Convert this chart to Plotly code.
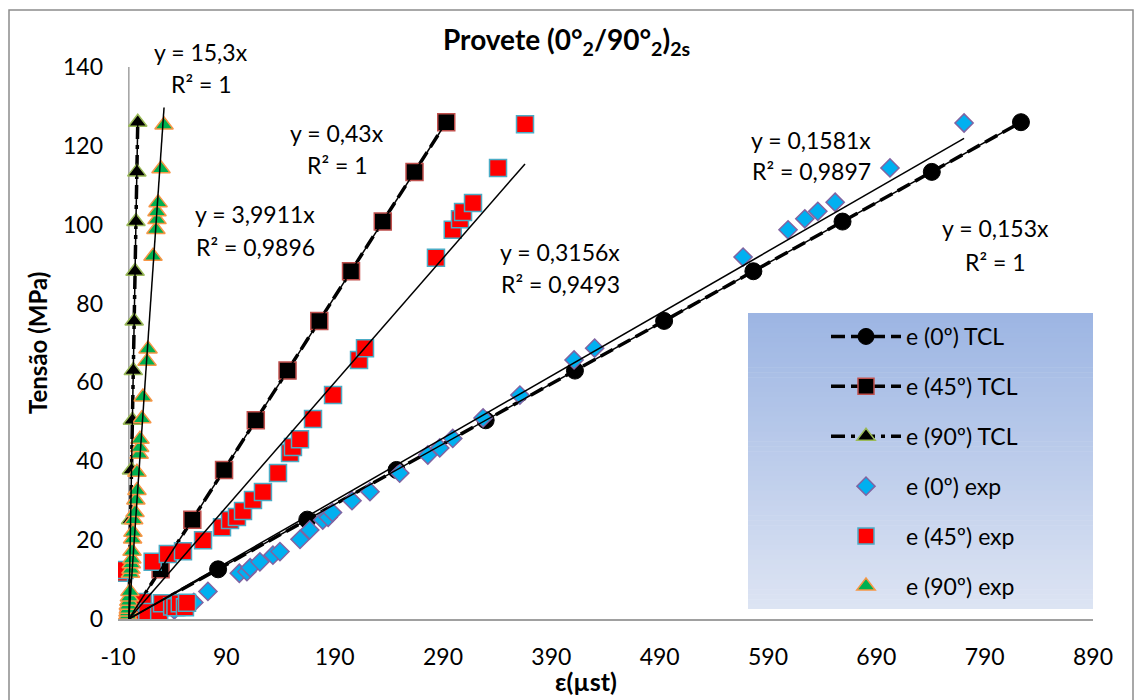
import plotly.graph_objects as go

# ---------------- data ----------------
tcl_load = [0, 12.6, 25.2, 37.8, 50.4, 63.0, 75.6, 88.2, 100.8, 113.4, 126.0]
tcl0_strain = [0, 82.4, 164.7, 247.1, 329.4, 411.8, 494.1, 576.5, 658.8, 741.2, 823.5]
tcl45_strain = [0, 29.3, 58.6, 87.9, 117.2, 146.5, 175.8, 205.1, 234.4, 263.7, 293.0]
tcl90_strain = [0, 0.82, 1.65, 2.47, 3.29, 4.12, 4.94, 5.76, 6.59, 7.41, 8.24]

exp0_strain = [5, 18, 30, 42, 52, 60, 73, 102, 109, 112, 121, 133, 139.5, 158, 167, 179, 184,
               188, 206, 222.6, 250, 276, 287, 299, 327, 361, 411, 430, 567, 608.5, 624, 636,
               652, 702.6, 771]
exp0_load = [0.3, 0.8, 1.5, 2.3, 3.2, 4.2, 7.0, 11.6, 12.0, 13.0, 14.5, 16.2, 17.1, 20.2, 22.6,
             25.1, 25.8, 27.0, 30.0, 32.3, 37.0, 41.6, 43.4, 45.8, 51.0, 56.8, 65.7, 68.7, 91.8,
             98.7, 101.5, 103.4, 105.7, 114.4, 125.8]

exp45_strain = [-9, -4, 3, 8, 13, 17, 22, 28, 30.6, 36, 40, 43, 47, 51.8, 53.7, 50, 68.5, 86,
                93.4, 99.8, 105.4, 114.6, 123.8, 137.7, 148.8, 151.5, 158, 170, 188.5, 212.5,
                218, 283.5, 299, 305.7, 308.5, 317.7, 340.8, 365.7]
exp45_load = [11.7, 12.4, 0.5, 1.5, 4.3, 1.8, 14.5, 1.0, 4.0, 16.5, 3.2, 3.0, 4.0, 3.0, 4.1,
              17.2, 20.0, 23.3, 25.1, 25.9, 27.4, 30.2, 32.2, 37.0, 42.1, 43.6, 45.6, 50.7,
              56.8, 65.7, 68.7, 91.6, 98.7, 101.4, 103.2, 105.5, 114.4, 125.5]

exp90_strain = [-1.5, -1, -0.8, -0.5, -0.5, 0, 0.5, 1, 1.5, 2, 2.3, 2.8, 3, 3.5, 3.8, 4.5, 5.7,
                6.5, 7.5, 7.5, 9.5, 10, 10.3, 12, 13, 16.8, 17.7, 22.3, 25, 26, 26, 27, 29.7,
                32.5]
exp90_load = [0.3, 1.0, 1.8, 2.5, 3.5, 4.5, 5.6, 7.0, 11.6, 12.6, 14.0, 15.2, 17.2, 20.3, 22.0,
              25.2, 27.0, 30.2, 32.6, 37.2, 41.8, 43.5, 45.6, 50.8, 56.3, 65.4, 68.5, 92.0,
              98.8, 101.3, 103.3, 105.6, 114.2, 125.3]

# trendline equations (as printed on chart)
trend_slopes = {"tcl0": 0.153, "tcl45": 0.43, "tcl90": 15.3,
                "exp0": 0.1581, "exp45": 0.3156, "exp90": 3.9911}
trend_eq = [("y = 15,3x", "R² = 1"), ("y = 0,43x", "R² = 1"), ("y = 3,9911x", "R² = 0,9896"),
            ("y = 0,3156x", "R² = 0,9493"), ("y = 0,1581x", "R² = 0,9897"), ("y = 0,153x", "R² = 1")]

x_ticks = [-10, 90, 190, 290, 390, 490, 590, 690, 790, 890]
y_ticks = [0, 20, 40, 60, 80, 100, 120, 140]

FONT = "Lato"
FS = 23
L, R, T, B = 118, 42, 67, 81
W, H = 1135, 700
PW, PH = W - L - R, H - T - B


def px(x):
    return (x - L) / PW


def py(y):
    return (T + PH - y) / PH


fig = go.Figure()

dash_long = "14px,6px"
dash_ld = "14px,6px,4px,6px"

fig.add_trace(go.Scatter(x=tcl0_strain, y=tcl_load, mode="lines+markers", name="e (0º) TCL",
                         legendgroup="a",
                         line=dict(color="black", width=3.5, dash=dash_long),
                         marker=dict(symbol="circle", size=17, color="black",
                                     line=dict(color="black", width=1))))
fig.add_trace(go.Scatter(x=tcl45_strain, y=tcl_load, mode="lines+markers", name="e (45º) TCL",
                         legendgroup="b",
                         line=dict(color="black", width=3.5, dash=dash_long),
                         marker=dict(symbol="square", size=17, color="black",
                                     line=dict(color="#C0504D", width=1.5))))
fig.add_trace(go.Scatter(x=tcl90_strain, y=tcl_load, mode="lines+markers", name="e (90º) TCL",
                         legendgroup="c",
                         line=dict(color="black", width=3.5, dash=dash_ld),
                         marker=dict(symbol="triangle-up", size=16, color="black",
                                     line=dict(color="#9BBB59", width=1.5))))
fig.add_trace(go.Scatter(x=exp0_strain, y=exp0_load, mode="markers", name="e (0º) exp",
                         legendgroup="d",
                         marker=dict(symbol="diamond", size=14, color="#00B0F0",
                                     line=dict(color="#8064A2", width=1.5))))
fig.add_trace(go.Scatter(x=exp45_strain, y=exp45_load, mode="markers", name="e (45º) exp",
                         legendgroup="e",
                         marker=dict(symbol="square", size=17, color="#FF0000",
                                     line=dict(color="#4BACC6", width=1.5))))
fig.add_trace(go.Scatter(x=exp90_strain, y=exp90_load, mode="markers", name="e (90º) exp",
                         legendgroup="f",
                         marker=dict(symbol="triangle-up", size=16, color="#00B050",
                                     line=dict(color="#F79646", width=1.5))))

# trendlines
for key, xs in [("tcl0", tcl0_strain), ("tcl45", tcl45_strain), ("tcl90", tcl90_strain),
                ("exp0", exp0_strain), ("exp45", exp45_strain), ("exp90", exp90_strain)]:
    xm = max(xs)
    s = trend_slopes[key]
    fig.add_trace(go.Scatter(x=[0, xm], y=[0, s * xm], mode="lines", showlegend=False,
                             hoverinfo="skip", line=dict(color="black", width=1.5)))

# shapes: outer border, gradient legend bg, y axis line at x=0
shapes = []
shapes.append(dict(type="rect", xref="paper", yref="paper", x0=px(9), x1=px(1133), y0=py(720),
                   y1=py(10), line=dict(color="#8C8C8C", width=1.5), fillcolor="rgba(0,0,0,0)",
                   layer="below"))
top_c = (156, 181, 227)
bot_c = (221, 228, 243)
lx0, lx1, ly0, ly1 = 748, 1093, 313, 609
n = 60
for i in range(n):
    t = (i + 0.5) / n
    c = tuple(round(top_c[k] + (bot_c[k] - top_c[k]) * t) for k in range(3))
    ya = ly0 + (ly1 - ly0) * i / n
    yb = ly0 + (ly1 - ly0) * (i + 1) / n + 0.6
    shapes.append(dict(type="rect", xref="paper", yref="paper", x0=px(lx0), x1=px(lx1),
                       y0=py(min(yb, ly1)), y1=py(ya), line=dict(width=0),
                       fillcolor="rgb(%d,%d,%d)" % c, layer="below"))
shapes.append(dict(type="line", xref="x", yref="y", x0=0, x1=0, y0=0, y1=140,
                   line=dict(color="#A0A0A0", width=1.5), layer="below"))

annotations = []
eq_pos = [(201, 52, 84), (337, 133, 165), (255, 214, 247), (560, 252, 284), (811, 140, 171),
          (995, 228, 262)]
for (l1, l2), (xc, y1, y2) in zip(trend_eq, eq_pos):
    annotations.append(dict(text=l1, x=px(xc), y=py(y1), xref="paper", yref="paper",
                            showarrow=False, xanchor="center", yanchor="middle",
                            font=dict(family=FONT, size=FS, color="black")))
    annotations.append(dict(text=l2, x=px(xc), y=py(y2), xref="paper", yref="paper",
                            showarrow=False, xanchor="center", yanchor="middle",
                            font=dict(family=FONT, size=FS, color="black")))

annotations.append(dict(text="<b>Provete (0°<sub>2</sub>/90°<sub>2</sub>)<sub>2s</sub></b>",
                        x=px(566), y=py(41), xref="paper", yref="paper", showarrow=False,
                        xanchor="center", yanchor="middle",
                        font=dict(family=FONT, size=28, color="black")))
annotations.append(dict(text="<b>ε(µst)</b>", x=px(586), y=py(681), xref="paper",
                        yref="paper", showarrow=False, xanchor="center", yanchor="middle",
                        font=dict(family=FONT, size=25, color="black")))
annotations.append(dict(text="<b>Tensão (MPa)</b>", x=px(37), y=py(343), xref="paper",
                        yref="paper", showarrow=False, xanchor="center", yanchor="middle",
                        textangle=-90, font=dict(family=FONT, size=24, color="black")))

fig.update_layout(
    width=W, height=H,
    margin=dict(l=L, r=R, t=T, b=B, autoexpand=False),
    paper_bgcolor="white", plot_bgcolor="rgba(0,0,0,0)",
    font=dict(family=FONT, size=FS, color="black"),
    showlegend=True,
    legend=dict(x=px(826), y=py(315), xanchor="left", yanchor="top",
                bgcolor="rgba(0,0,0,0)", itemwidth=70, tracegroupgap=17,
                font=dict(family=FONT, size=FS, color="black")),
    shapes=shapes,
    annotations=annotations,
    xaxis=dict(range=[-10, 890], tickvals=x_ticks, ticktext=[str(v) for v in x_ticks],
               showgrid=False, zeroline=False, showline=True, linecolor="#A0A0A0",
               linewidth=1.5, ticks="", ticklabelstandoff=17,
               tickfont=dict(family=FONT, size=FS, color="black")),
    yaxis=dict(range=[0, 140], tickvals=y_ticks, ticktext=[str(v) for v in y_ticks],
               showgrid=False, zeroline=False, showline=False, ticks="",
               ticklabelstandoff=14, tickfont=dict(family=FONT, size=FS, color="black")),
)

fig.write_html("out.html")
